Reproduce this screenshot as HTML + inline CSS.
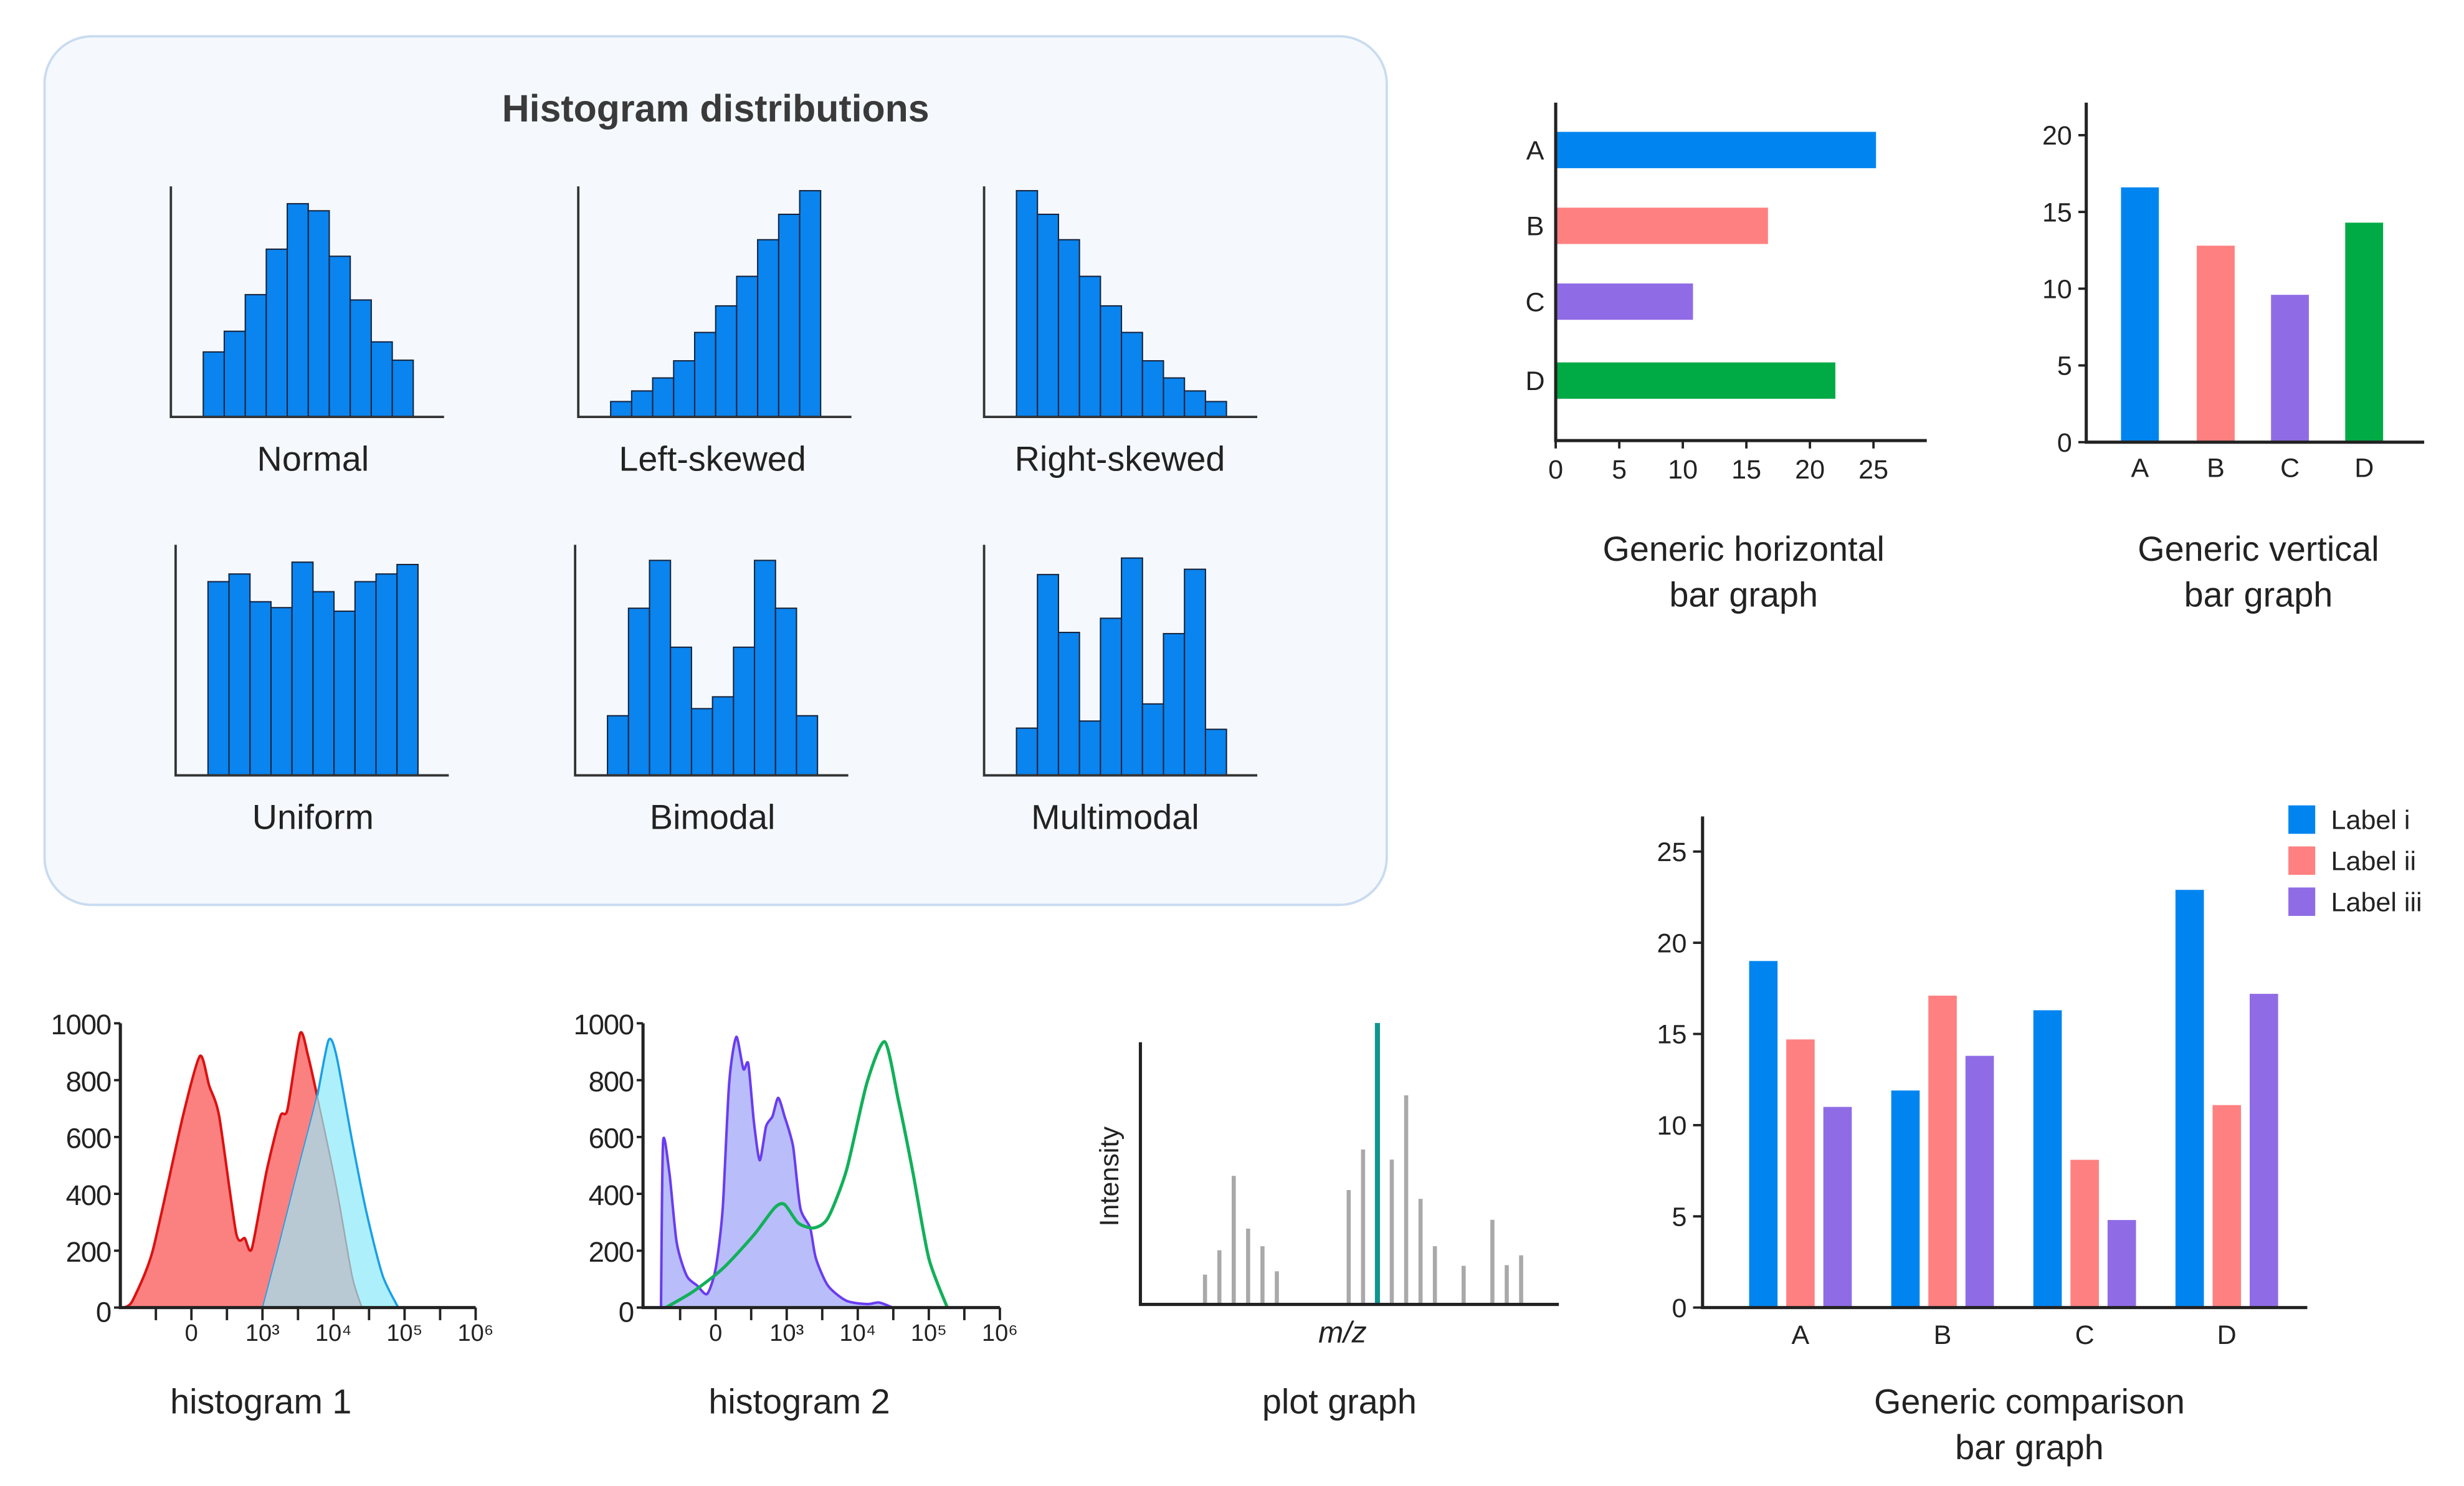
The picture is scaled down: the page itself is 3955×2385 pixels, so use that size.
<!DOCTYPE html>
<html><head><meta charset="utf-8">
<style>
html,body{margin:0;padding:0;background:#fff;}
svg{display:block;font-family:"Liberation Sans",Arial,sans-serif;}
</style></head>
<body>
<svg id="root" width="3955" height="2385" viewBox="0 0 1560 941" xmlns="http://www.w3.org/2000/svg">
  <rect x="28" y="23" width="850" height="550" rx="30" ry="30" fill="#f5f9fe" stroke="#c9dbef" stroke-width="1.5"/>
  <text x="453" y="77" text-anchor="middle" font-size="24" font-weight="bold" fill="#3a3a3a">Histogram distributions</text>
  <g id="g"></g>
</svg>
<script>
// ---- data ----
const normalVals=[110,145,207,284,361,349,272,198,127,96];
const leftVals=[26,44,66,95,143,188,238,300,343,383];
const rightVals=[383,343,300,238,188,143,95,66,44,26];
const uniformVals=[328,341,294,284,361,311,278,328,341,357];
const bimodalVals=[101,283,364,217,113,133,217,364,283,101];
const multiVals=[80,340,242,92,266,368,121,240,349,78];
const distNames=["Normal","Left-skewed","Right-skewed","Uniform","Bimodal","Multimodal"];

const hCats=["A","B","C","D"];
const hVals=[25.2,16.7,10.8,22.0];
const hTicks=[0,5,10,15,20,25];

const vCats=["A","B","C","D"];
const vVals=[16.6,12.8,9.6,14.3];
const vTicks=[0,5,10,15,20];

const cCats=["A","B","C","D"];
const labelI=[19.0,11.9,16.3,22.9];
const labelII=[14.7,17.1,8.1,11.1];
const labelIII=[11.0,13.8,4.8,17.2];
const cTicks=[0,5,10,15,20,25];
const legendLabels=["Label i","Label ii","Label iii"];

const countTicks=[0,200,400,600,800,1000];
const decadeLabels=["0","10³","10⁴","10⁵","10⁶"];
const h1RedX=[-0.95,-0.83,-0.55,-0.12,0.12,0.25,0.39,0.63,0.75,0.85,1.06,1.25,1.35,1.53,1.64,1.78,2.04,2.26,2.4];
const h1RedY=[0,24,196,673,885,780,673,262,244,208,482,673,696,964,887,732,423,113,0];
const h1BlueX=[1.01,1.25,1.54,1.76,1.93,2.04,2.26,2.47,2.69,2.91];
const h1BlueY=[0,232,518,732,940,887,589,327,113,0];
const h2PurpX=[-0.77,-0.74,-0.65,-0.55,-0.41,-0.26,-0.12,0,0.1,0.19,0.29,0.39,0.46,0.54,0.62,0.71,0.8,0.88,0.97,1.09,1.19,1.33,1.41,1.58,1.84,2.13,2.3,2.49];
const h2PurpY=[0,583,470,230,113,77,48,137,351,792,952,839,857,649,518,637,673,738,673,565,351,280,173,77,24,12,18,0];
const h2GreenX=[-0.7,-0.33,0.1,0.54,0.83,0.97,1.16,1.38,1.58,1.84,2.13,2.38,2.57,2.78,3.0,3.26];
const h2GreenY=[0,54,137,256,351,363,298,280,315,482,792,935,732,470,173,0];
const peakOffsets=[-11,-10,-9,-8,-7,-6,-1,0,1,2,3,4,5,7,9,10,11];
const peakHeights=[88,160,380,224,172,98,338,458,832,428,618,312,172,114,250,116,145];
const tealIndex=8;

const NS="http://www.w3.org/2000/svg";
const G=document.getElementById('g');
function mk(tag,attrs,parent){const e=document.createElementNS(NS,tag);for(const k in attrs)e.setAttribute(k,attrs[k]);(parent||G).appendChild(e);return e;}
function txt(s,attrs,parent){const e=mk('text',attrs,parent);e.textContent=s;return e;}

// ---- histogram distributions ----
const distSets=[normalVals,leftVals,rightVals,uniformVals,bimodalVals,multiVals];
const axX=[108,366,623,111,364,623];
const baseY=[264,264,264,491,491,491];
const labelX=[198,451,709,198,451,706];
const Hs=0.374;
distSets.forEach((vals,i)=>{
  const ax=axX[i],by=baseY[i];
  const grp=mk('g',{});
  
  
  const bw=13.3, x0=ax+20.5;
  vals.forEach((v,j)=>{
    const h=v*Hs;
    const r=mk('rect',{x:x0+j*bw,y:by-h,width:bw,height:h,fill:'#0a84ee',stroke:'#16223a','stroke-width':0.8},grp);
    
    
  });
  const a=mk('path',{d:`M${ax} ${by-146}V${by}H${ax+173}`,fill:'none',stroke:'#333','stroke-width':1.5},grp);
  
  
  const t=txt(distNames[i],{x:labelX[i],y:by+34,'text-anchor':'middle','font-size':22,fill:'#222'},grp);
  
  
});

// ---- horizontal bar graph ----
(function(){
  const x0=985,y0=279,top=65,sx=8.05;
  const colors=['#0085f0','#ff8080','#8f6ce6','#00aa44'];
  const centers=[95,143,191,241];
  hVals.forEach((v,i)=>{
    const r=mk('rect',{x:x0,y:centers[i]-11.5,width:v*sx,height:23,fill:colors[i]});
    
    
    const t=txt(hCats[i],{x:972,y:centers[i]+6,'text-anchor':'middle','font-size':17,fill:'#222'});
    
    
  });
  const a=mk('path',{d:`M${x0} ${top}V${y0}H1220`,fill:'none',stroke:'#222','stroke-width':2});
  
  
  hTicks.forEach(v=>{
    const x=x0+v*sx;
    const tk=mk('line',{x1:x,x2:x,y1:y0,y2:y0+5,stroke:'#222','stroke-width':1.5});
    
    
    const t=txt(String(v),{x:x,y:y0+24,'text-anchor':'middle','font-size':17,fill:'#222'});
    
    
  });
  const t1=txt('Generic horizontal',{x:1104,y:355,'text-anchor':'middle','font-size':22,fill:'#222'});
  
  
  const t2=txt('bar graph',{x:1104,y:384,'text-anchor':'middle','font-size':22,fill:'#222'});
  
  
})();

// ---- vertical bar graph ----
(function(){
  const x0=1321,y0=280,sy=9.72;
  const colors=['#0085f0','#ff8080','#8f6ce6','#00aa44'];
  const centers=[1355,1403,1450,1497];
  vVals.forEach((v,i)=>{
    const r=mk('rect',{x:centers[i]-12,y:y0-v*sy,width:24,height:v*sy,fill:colors[i]});
    
    
    const t=txt(vCats[i],{x:centers[i],y:y0+22,'text-anchor':'middle','font-size':17,fill:'#222'});
    
    
  });
  const a=mk('path',{d:`M${x0} 65V${y0}H1535`,fill:'none',stroke:'#222','stroke-width':2});
  
  
  vTicks.forEach(v=>{
    const y=y0-v*sy;
    const tk=mk('line',{x1:x0-5,x2:x0,y1:y,y2:y,stroke:'#222','stroke-width':1.5});
    
    
    const t=txt(String(v),{x:x0-9,y:y+6,'text-anchor':'end','font-size':17,fill:'#222'});
    
    
  });
  const t1=txt('Generic vertical',{x:1430,y:355,'text-anchor':'middle','font-size':22,fill:'#222'});
  
  
  const t2=txt('bar graph',{x:1430,y:384,'text-anchor':'middle','font-size':22,fill:'#222'});
  
  
})();

// ---- comparison bar graph ----
(function(){
  const x0=1078,y0=828,sy=11.55;
  const series=[labelI,labelII,labelIII];
  const colors=['#0085f0','#ff8080','#8f6ce6'];
  const centers=[1140,1230,1320,1410];
  series.forEach((vals,s)=>{
    vals.forEach((v,i)=>{
      const cx=centers[i]+(s-1)*23.5;
      const r=mk('rect',{x:cx-9,y:y0-v*sy,width:18,height:v*sy,fill:colors[s]});
      
      
    });
  });
  cCats.forEach((c,i)=>{
    const t=txt(c,{x:centers[i],y:y0+23,'text-anchor':'middle','font-size':17,fill:'#222'});
    
    
  });
  const a=mk('path',{d:`M${x0} 517V${y0}H1461`,fill:'none',stroke:'#222','stroke-width':2});
  
  
  cTicks.forEach(v=>{
    const y=y0-v*sy;
    const tk=mk('line',{x1:x0-6,x2:x0,y1:y,y2:y,stroke:'#222','stroke-width':1.5});
    
    
    const t=txt(String(v),{x:x0-10,y:y+6,'text-anchor':'end','font-size':17,fill:'#222'});
    
    
  });
  legendLabels.forEach((l,i)=>{
    const y=510+i*26;
    const r=mk('rect',{x:1449,y:y,width:17,height:18,fill:colors[i]});
    
    
    const t=txt(l,{x:1476,y:y+15,'font-size':17,fill:'#222'});
    
    
  });
  const t1=txt('Generic comparison',{x:1285,y:895,'text-anchor':'middle','font-size':22,fill:'#222'});
  
  
  const t2=txt('bar graph',{x:1285,y:924,'text-anchor':'middle','font-size':22,fill:'#222'});
  
  
})();

// ---- flow histograms ----
function flowAxes(ax,zeroX,name){
  const y0=828,top=648,sy=0.18,dx=45;
  const a=mk('path',{d:`M${ax} ${top}V${y0}H${zeroX+4*dx}`,fill:'none',stroke:'#222','stroke-width':2});
  
  
  countTicks.forEach(v=>{
    const y=y0-v*sy;
    const tk=mk('line',{x1:ax-4,x2:ax,y1:y,y2:y,stroke:'#222','stroke-width':1.5});
    
    
    const t=txt(String(v),{x:ax-6,y:y+(v===0?9:7),'text-anchor':'end','font-size':18,fill:'#222','letter-spacing':-0.5});
    
    
  });
  for(let k=-1;k<=8;k++){
    const x=zeroX+k*dx/2;
    if(x<=ax+5)continue;
    const tk=mk('line',{x1:x,x2:x,y1:y0,y2:y0+8,stroke:'#222','stroke-width':1.5});
    
    
  }
  decadeLabels.forEach((l,i)=>{
    const t=txt(l,{x:zeroX+i*dx,y:y0+21,'text-anchor':'middle','font-size':15,fill:'#222'});
    
    
  });
}
function curvePath(xs,ys,zeroX){
  const P=xs.map((d,i)=>[zeroX+d*45,828-ys[i]*0.18]);
  let s='M'+P[0][0].toFixed(1)+' '+P[0][1].toFixed(1);
  const k=0.12;
  for(let i=0;i<P.length-1;i++){
    const p0=P[Math.max(0,i-1)],p1=P[i],p2=P[i+1],p3=P[Math.min(P.length-1,i+2)];
    const c1=[p1[0]+(p2[0]-p0[0])*k,p1[1]+(p2[1]-p0[1])*k];
    const c2=[p2[0]-(p3[0]-p1[0])*k,p2[1]-(p3[1]-p1[1])*k];
    s+='C'+c1.map(v=>v.toFixed(1)).join(' ')+' '+c2.map(v=>v.toFixed(1)).join(' ')+' '+p2[0].toFixed(1)+' '+p2[1].toFixed(1);
  }
  return s;
}
(function(){
  const zx=121;
  const redD=curvePath(h1RedX,h1RedY,zx)+'Z';
  const blueD=curvePath(h1BlueX,h1BlueY,zx)+'Z';
  const cp=mk('clipPath',{id:'blueclip'});
  mk('path',{d:blueD},cp);
  const red=mk('path',{d:redD,fill:'#fb8181',stroke:'#dd1111','stroke-width':1.6,'stroke-linejoin':'round'});
  
  
  const blue=mk('path',{d:blueD,fill:'#adf0fb',stroke:'#1a9fe6','stroke-width':1.4,'stroke-linejoin':'round'});
  
  
  const ov=mk('path',{d:redD,fill:'#b8c9d4',stroke:'#a0a8b0','stroke-width':1,'clip-path':'url(#blueclip)'});
  
  
  flowAxes(76,zx,'histogram1');
  const t=txt('histogram 1',{x:165,y:895,'text-anchor':'middle','font-size':22,fill:'#222'});
  
  
})();
(function(){
  const zx=453;
  const p=mk('path',{d:curvePath(h2PurpX,h2PurpY,zx)+'Z',fill:'#b9befa',stroke:'#6a3cf0','stroke-width':1.6,'stroke-linejoin':'round'});
  
  
  const g=mk('path',{d:curvePath(h2GreenX,h2GreenY,zx),fill:'none',stroke:'#12b05a','stroke-width':2,'stroke-linejoin':'round'});
  
  
  flowAxes(407,zx,'histogram2');
  const t=txt('histogram 2',{x:506,y:895,'text-anchor':'middle','font-size':22,fill:'#222'});
  
  
})();

// ---- plot graph ----
(function(){
  const centerX=863,step=9.1,y0=826,sy=0.2142;
  peakOffsets.forEach((o,i)=>{
    const x=centerX+o*step;
    const teal=i===tealIndex;
    const l=mk('line',{x1:x,x2:x,y1:y0,y2:y0-peakHeights[i]*sy,stroke:teal?'#0e9690':'#a9a9a9','stroke-width':teal?3.2:2.6});
    
    
  });
  const a=mk('path',{d:`M722 660V${y0}H987`,fill:'none',stroke:'#222','stroke-width':2});
  
  
  const yl=txt('Intensity',{x:0,y:0,transform:'translate(708,745) rotate(-90)','text-anchor':'middle','font-size':17,fill:'#222'});
  
  
  const xl=txt('m/z',{x:850,y:850,'text-anchor':'middle','font-size':19,'font-style':'italic',fill:'#222'});
  
  
  const t=txt('plot graph',{x:848,y:895,'text-anchor':'middle','font-size':22,fill:'#222'});
  
  
})();
</script>
</body></html>
